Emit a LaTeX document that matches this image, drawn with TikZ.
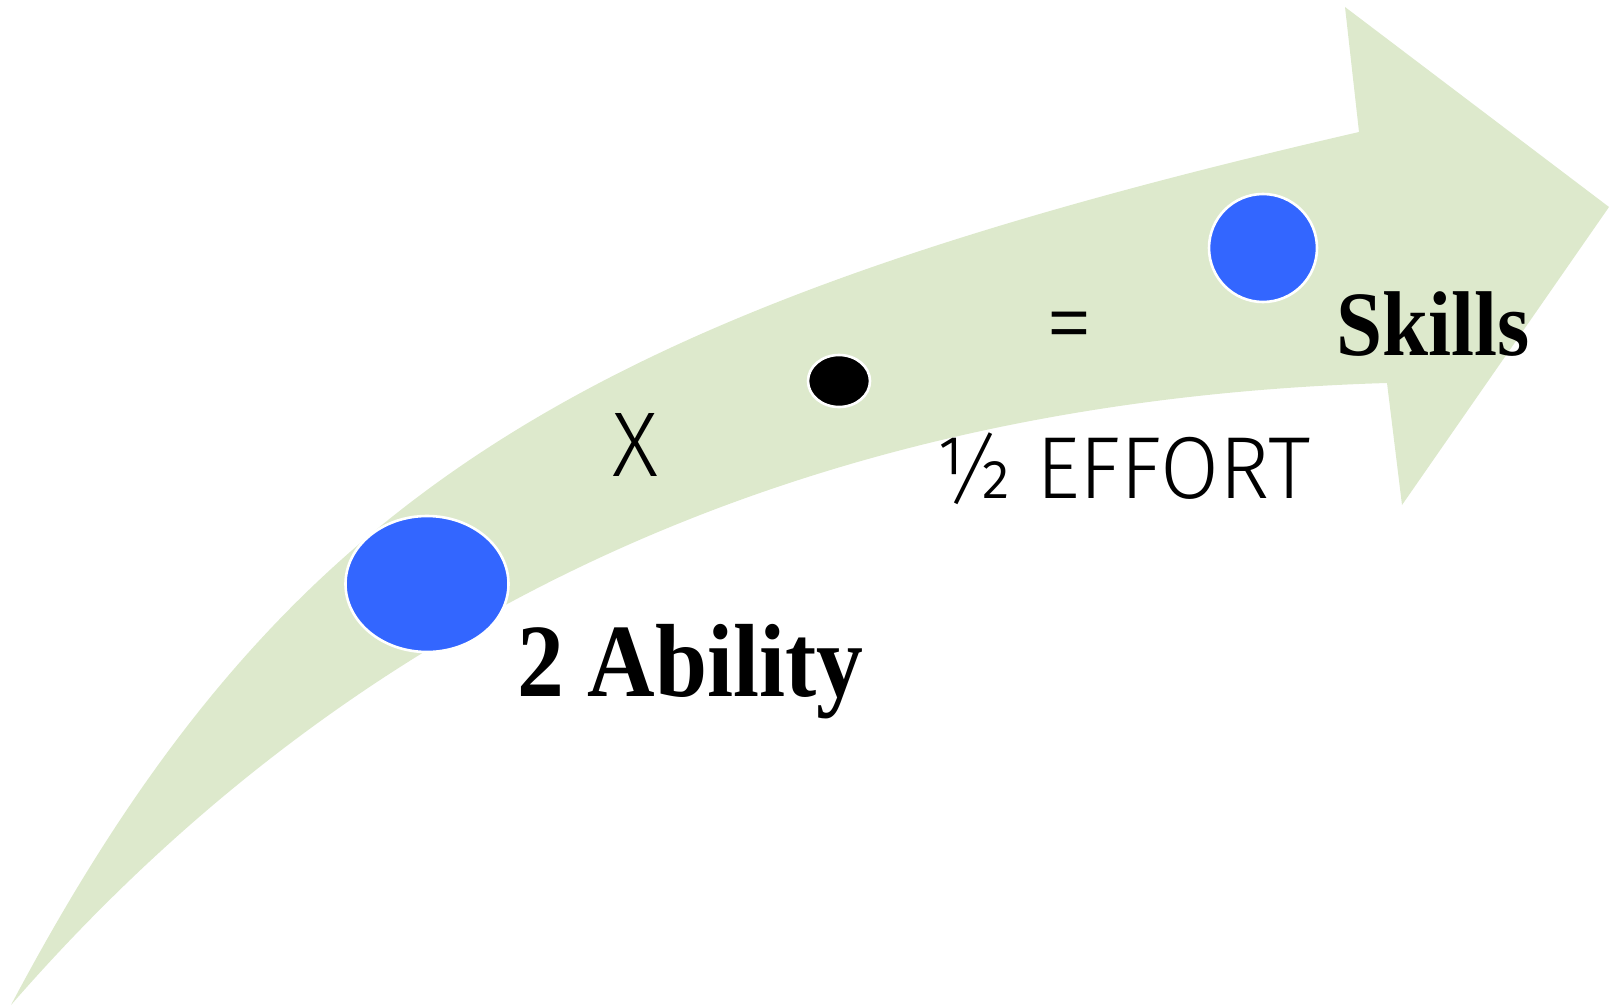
\documentclass[tikz,border=0pt]{standalone}
\usepackage{fontspec}
\setmainfont{Liberation Serif}
\newfontfamily\boldserif[FakeStretch=0.9]{Liberation Serif}
\IfFontExistsTF{Fira Sans Light}
  {\newfontfamily\thinfont[FakeStretch=0.97]{Fira Sans Light}}
  {\newfontfamily\thinfont[FakeStretch=0.97]{Fira Sans}}
\usetikzlibrary{shapes.geometric}
\definecolor{shaftgreen}{RGB}{221,233,204}
\definecolor{dotblue}{RGB}{51,102,255}

\begin{document}
\begin{tikzpicture}[
    x=0.5pt, y=-0.5pt,
    dot/.style={ellipse, draw=white, line width=1.3pt, fill=dotblue, inner sep=0pt},
    bigword/.style={font=\boldserif\bfseries\fontsize{52}{52}\selectfont, inner sep=0pt, anchor=base west},
    thinword/.style={font=\thinfont\fontsize{44}{44}\selectfont, inner sep=0pt},
]
    \useasboundingbox (0,0) rectangle (1617,1006);

    % Curved arrow
    \fill[shaftgreen] (11,1005) .. controls (283,492) and (579,312) .. (1359,132)
        -- (1345,7) -- (1609,207) -- (1402,505) -- (1387,383)
        .. controls (787,401) and (341,626) .. cycle;

    \node[dot, minimum width=81.5pt, minimum height=68pt] (ability) at (427,584) {};
    \node[dot, fill=black, minimum width=31pt, minimum height=26pt] (effortdot) at (839,381) {};
    \node[dot, minimum width=54pt, minimum height=54pt] (skills) at (1263,248) {};

    \node[bigword] (abilitylabel) at (517,696) {2 Ability};
    \node[bigword, font=\boldserif\bfseries\fontsize{46}{46}\selectfont] (skillslabel) at (1336,355) {Skills};
    \node[thinword, font=\thinfont\fontsize{46}{46}\selectfont] (times) at (635,445) {X};
    \node[thinword, font=\thinfont\fontsize{50}{50}\selectfont] (equals) at (1069,334) {=};
    \node[thinword, anchor=base west] (effortlabel) at (934,498) {½ EFFORT};
\end{tikzpicture}
\end{document}
